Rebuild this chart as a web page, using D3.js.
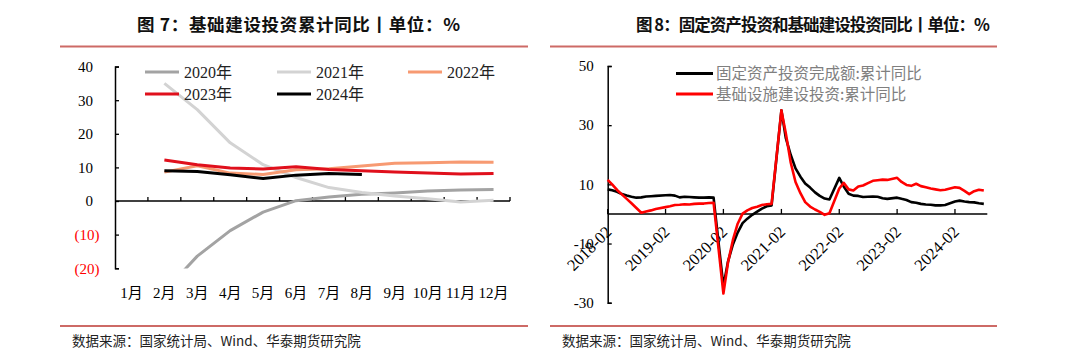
<!DOCTYPE html>
<html><head><meta charset="utf-8">
<script src="https://cdn.jsdelivr.net/npm/d3@7"></script>
<style>
html,body{margin:0;padding:0;background:#fff;}
svg{display:block;}
</style></head>
<body>
<svg id="c" width="1080" height="359"></svg>
<script>
// ---------- Left chart data ----------
const monthsL = ["1月","2月","3月","4月","5月","6月","7月","8月","9月","10月","11月","12月"];
const yTicksL = [40,30,20,10,0,-10,-20];
const s2020 = [null,-26.9,-16.4,-8.8,-3.3,0.1,1.2,2.0,2.4,3.0,3.3,3.4];
const s2021 = [null,35.0,27.2,17.3,10.8,7.0,4.0,2.5,1.5,0.7,-0.3,0.2];
const s2022 = [null,8.6,10.5,8.3,7.9,9.3,9.6,10.4,11.2,11.4,11.6,11.5];
const s2023 = [null,12.2,10.8,9.8,9.5,10.2,9.4,9.0,8.6,8.3,8.0,8.2];
const s2024 = [null,9.0,8.8,7.8,6.7,7.7,8.2,7.9];
const seriesNamesL = ["2020年","2021年","2022年","2023年","2024年"];
const seriesColorsL = ["#a3a3a3","#d3d3d3","#f79a72","#e0101c","#000000"];

// ---------- Right chart data (Feb..Dec each year) ----------
const yearsR = [2018,2019,2020,2021,2022,2023,2024];
const faiR = [
  8.3,8.0,7.5,6.7,6.2,5.8,5.5,5.6,5.9,6.0,6.1,
  6.3,6.4,6.2,5.6,5.8,5.7,5.6,5.5,5.5,5.6,5.5,
  -24.5,-16.1,-10.3,-6.3,-3.1,-1.6,-0.3,0.8,1.8,2.6,2.9,
  35.0,25.6,19.9,15.4,12.6,10.3,8.9,7.3,6.1,5.2,4.9,
  12.2,9.3,6.8,6.2,6.1,5.7,5.8,5.9,5.8,5.3,5.1,
  5.5,5.1,4.7,4.0,3.8,3.4,3.2,3.1,2.9,2.9,3.0,
  4.2,4.5,4.2,4.0,3.9,3.6,3.4
];
const infraR = [
  11.5,10.0,8.1,6.6,5.1,3.6,2.0,0.4,0.8,1.2,1.7,
  2.3,2.6,3.0,3.1,3.3,3.2,3.4,3.5,3.5,3.7,3.8,
  -26.9,-16.4,-8.8,-3.3,0.1,1.2,2.0,2.4,3.0,3.3,3.4,
  35.0,27.2,17.3,10.8,7.0,4.0,2.5,1.5,0.7,-0.3,0.2,
  8.6,10.5,8.3,7.9,9.3,9.6,10.4,11.2,11.4,11.6,11.5,
  12.2,10.8,9.8,9.5,10.2,9.4,9.0,8.6,8.3,8.0,8.2,
  9.0,8.8,7.8,6.7,7.7,8.2,7.9
];
const xTickLabelsR = ["2018-02","2019-02","2020-02","2021-02","2022-02","2023-02","2024-02"];
const yTicksR = [50,30,10,-10,-30];
const seriesNamesR = ["固定资产投资完成额:累计同比","基础设施建设投资:累计同比"];
const seriesColorsR = ["#000000","#ff0000"];

const titles = ["图 7：基础建设投资累计同比丨单位：%","图 8：固定资产投资和基础建设投资同比丨单位：%"];
const sourceText = "数据来源：国家统计局、Wind、华泰期货研究院";

const svg = d3.select("#c");
const NUM = "'Liberation Serif','Times New Roman',serif";
const CJK = "'Noto Sans CJK SC','Noto Sans',sans-serif";
const barColor = "#cd6a66";

// ---------- Frames ----------
svg.append("text").attr("x",137).attr("y",31)
  .attr("font-family",CJK).attr("font-weight","bold").attr("font-size",17.5).attr("fill","#111")
  .attr("textLength",323).attr("lengthAdjust","spacing").text(titles[0]);
svg.append("text").attr("x",636).attr("y",31)
  .attr("font-family",CJK).attr("font-weight","bold").attr("font-size",16.5).attr("fill","#111")
  .attr("textLength",354).attr("lengthAdjust","spacing").text(titles[1]);
[[60,528],[550,997]].forEach(([a,b])=>{
  svg.append("line").attr("x1",a).attr("x2",b).attr("y1",46.5).attr("y2",46.5).attr("stroke",barColor).attr("stroke-width",2);
  svg.append("line").attr("x1",a).attr("x2",b).attr("y1",326).attr("y2",326).attr("stroke",barColor).attr("stroke-width",2);
});
[72,562].forEach(x=>{
  svg.append("text").attr("x",x).attr("y",346).attr("font-family",CJK).attr("font-size",13.5).attr("fill","#222").text(sourceText);
});

// ---------- Left chart ----------
const xL = d3.scaleBand().domain(monthsL).range([115,510]).paddingInner(0).paddingOuter(0);
const yL = d3.scaleLinear().domain([-20,40]).range([268.2,66.6]);
const gL = svg.append("g");
gL.append("clipPath").attr("id","clipL").append("rect").attr("x",115).attr("y",66).attr("width",400).attr("height",202.5);

const yAxL = d3.axisLeft(yL).tickValues(yTicksL).tickSize(-4).tickPadding(0)
  .tickFormat(d=> d<0 ? "("+Math.abs(d)+")" : String(d));
const gyL = gL.append("g").attr("transform","translate(115,0)").call(yAxL);
gyL.select(".domain").attr("stroke","#000").attr("stroke-width",1.5);
gyL.selectAll(".tick line").attr("stroke","#000").attr("stroke-width",1.3);
gyL.selectAll(".tick text").attr("font-family",NUM).attr("font-size",15)
  .attr("fill",d=> d<0 ? "#ff0000" : "#000")
  .attr("x",d=> d<0 ? -15.5 : -22);

const bw = xL.bandwidth();
const gxL = gL.append("g").attr("transform",`translate(0,${yL(0)})`);
gxL.append("line").attr("x1",115).attr("x2",510).attr("stroke","#000").attr("stroke-width",1.5);
const bounds = monthsL.map(m=>xL(m)+bw);
gxL.selectAll("line.tk").data(bounds).join("line").attr("class","tk")
  .attr("x1",d=>d).attr("x2",d=>d).attr("y1",0).attr("y2",-4).attr("stroke","#000").attr("stroke-width",1.3);
gL.selectAll("text.mlab").data(monthsL).join("text").attr("class","mlab")
  .attr("x",d=>xL(d)+bw/2).attr("y",298).attr("text-anchor","middle")
  .attr("font-family",NUM+","+CJK).attr("font-size",15).attr("fill","#000").text(d=>d);

const seriesL = [s2020,s2021,s2022,s2023,s2024];
const lineL = d3.line().defined(d=>d!=null).x((d,i)=>xL(monthsL[i])+bw/2).y(d=>yL(d));
const plotL = gL.append("g").attr("clip-path","url(#clipL)");
seriesL.forEach((s,i)=>{
  plotL.append("path").attr("d",lineL(s)).attr("fill","none").attr("stroke",seriesColorsL[i])
    .attr("stroke-width",3).attr("stroke-linejoin","round");
});
const legPosL = [[145,72],[277,72],[408,72],[145,94],[277,94]];
seriesNamesL.forEach((n,i)=>{
  const [lx,ly] = legPosL[i];
  gL.append("line").attr("x1",lx).attr("x2",lx+34).attr("y1",ly).attr("y2",ly)
    .attr("stroke",seriesColorsL[i]).attr("stroke-width",3);
  gL.append("text").attr("x",lx+39).attr("y",ly+5.5).attr("font-family",NUM+","+CJK)
    .attr("font-size",16).attr("fill","#222").text(n);
});

// ---------- Right chart ----------
const datesR = [];
yearsR.forEach(y=>{ for(let m=2;m<=12;m++){ if(datesR.length<faiR.length) datesR.push(new Date(y,m-1,1)); } });
const xR = d3.scaleTime().domain([new Date(2018,1,1), new Date(2024,7,23)]).range([607.7,987.3]);
const yR = d3.scaleLinear().domain([-30,50]).range([302.7,66]);
const gR = svg.append("g");

const yAxR = d3.axisLeft(yR).tickValues(yTicksR).tickSize(-4).tickPadding(14).tickFormat(d=>String(d));
const gyR = gR.append("g").attr("transform","translate(607.7,0)").call(yAxR);
gyR.select(".domain").attr("stroke","#000").attr("stroke-width",1.5);
gyR.selectAll(".tick line").attr("stroke","#000").attr("stroke-width",1.3);
gyR.selectAll(".tick text").attr("font-family",NUM).attr("font-size",15).attr("fill","#000");

const tickDatesR = xTickLabelsR.map(s=>{const [y,m]=s.split("-").map(Number); return new Date(y,m-1,1);});
const gxR = gR.append("g").attr("transform",`translate(0,${yR(0)})`);
gxR.append("line").attr("x1",607.7).attr("x2",987.3).attr("stroke","#000").attr("stroke-width",1.5);
gxR.selectAll("line.tk").data(tickDatesR).join("line").attr("class","tk")
  .attr("x1",d=>xR(d)).attr("x2",d=>xR(d)).attr("y1",0).attr("y2",-5).attr("stroke","#000").attr("stroke-width",1.3);
gxR.selectAll("text.xl").data(tickDatesR).join("text").attr("class","xl")
  .attr("transform",d=>`translate(${xR(d)+5},${19}) rotate(-45)`)
  .attr("text-anchor","end").attr("font-family",NUM).attr("font-size",16.5).attr("fill","#000")
  .text((d,i)=>xTickLabelsR[i]);

const lineR = d3.line().x((d,i)=>xR(datesR[i])).y(d=>yR(d));
[faiR,infraR].forEach((s,i)=>{
  gR.append("path").attr("d",lineR(s)).attr("fill","none").attr("stroke",seriesColorsR[i])
    .attr("stroke-width",2.6).attr("stroke-linejoin","round");
});
[[676,73.5],[676,94]].forEach(([lx,ly],i)=>{
  gR.append("line").attr("x1",lx).attr("x2",lx+37).attr("y1",ly).attr("y2",ly)
    .attr("stroke",seriesColorsR[i]).attr("stroke-width",3);
  gR.append("text").attr("x",lx+40).attr("y",ly+5.5).attr("font-family",CJK)
    .attr("font-size",15.5).attr("fill","#7f7f7f").text(seriesNamesR[i]);
});
</script>
</body></html>
